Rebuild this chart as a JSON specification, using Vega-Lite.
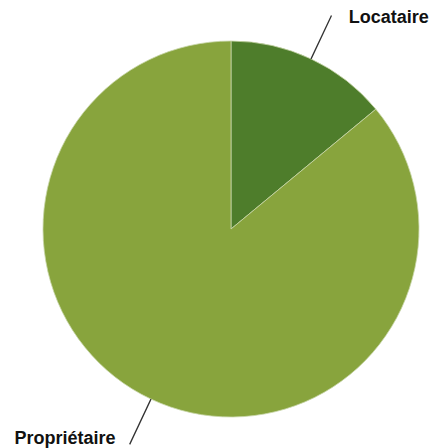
{
  "$schema": "https://vega.github.io/schema/vega-lite/v6.json",
  "autosize": {"type": "none"},
  "padding": {"left": 43, "top": 41, "right": 16, "bottom": 31},
  "width": 376,
  "height": 376,
  "background": "#ffffff",
  "config": {"view": {"stroke": null}},
  "data": {"values": [
    {"category": "Locataire", "value": 14},
    {"category": "Propriétaire", "value": 86}
  ]},
  "layer": [
    {
      "mark": {"type": "arc", "stroke": "#c8d6a8", "strokeWidth": 0.8},
      "encoding": {
        "theta": {"field": "value", "type": "quantitative", "stack": true},
        "color": {
          "field": "category", "type": "nominal",
          "scale": {"domain": ["Locataire", "Propriétaire"], "range": ["#4e7d2b", "#88a43d"]},
          "legend": null
        },
        "order": {"field": "category", "sort": "ascending"}
      }
    },
    {
      "transform": [{"filter": "datum.category == 'Locataire'"}],
      "mark": {"type": "arc", "radius": 236, "radius2": 188, "padAngle": 3, "fill": null, "stroke": "#333333", "strokeWidth": 1.3},
      "encoding": {
        "theta": {"field": "value", "type": "quantitative", "stack": true}
      }
    },
    {
      "transform": [{"filter": "datum.category == 'Locataire'"}],
      "mark": {"type": "arc", "radius": 238, "radius2": 188, "padAngle": 3, "thetaOffset": 3.14159265, "theta2Offset": 3.14159265, "fill": null, "stroke": "#333333", "strokeWidth": 1.3},
      "encoding": {
        "theta": {"field": "value", "type": "quantitative", "stack": true}
      }
    },
    {
      "mark": {"type": "text", "radius": 232, "align": "left", "baseline": "middle", "dx": 19, "dy": -1, "font": "Liberation Sans", "fontWeight": "bold", "fontSize": 18, "color": "#111111"},
      "encoding": {
        "theta": {"field": "value", "type": "quantitative", "stack": true},
        "text": {"field": "category", "type": "nominal"},
        "order": {"field": "category", "sort": "ascending"},
        "opacity": {"condition": {"test": "datum.category == 'Locataire'", "value": 1}, "value": 0}
      }
    },
    {
      "mark": {"type": "text", "radius": 236, "align": "right", "baseline": "middle", "dx": -15, "dy": -4, "font": "Liberation Sans", "fontWeight": "bold", "fontSize": 18, "color": "#111111"},
      "encoding": {
        "theta": {"field": "value", "type": "quantitative", "stack": true},
        "text": {"field": "category", "type": "nominal"},
        "order": {"field": "category", "sort": "ascending"},
        "opacity": {"condition": {"test": "datum.category == 'Propriétaire'", "value": 1}, "value": 0}
      }
    }
  ]
}
